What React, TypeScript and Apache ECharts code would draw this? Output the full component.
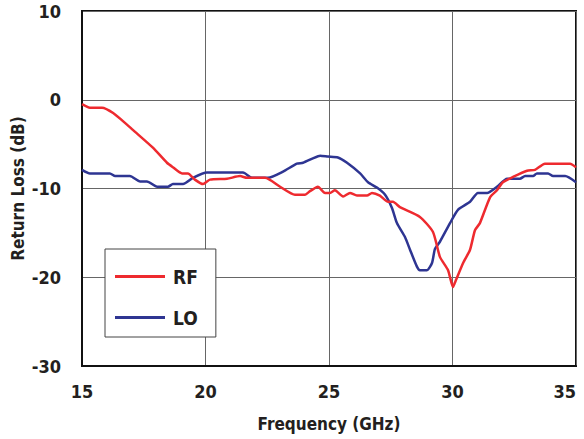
import React, { useEffect, useRef } from "react";
import * as echarts from "echarts";

const rfFreq = [15.0, 15.32, 15.81, 16.26, 16.82, 17.06, 17.87, 18.44, 18.68, 19.05, 19.29, 19.57, 19.9, 20.18, 20.87, 21.4, 21.68, 22.21, 22.41, 23.02, 23.62, 24.03, 24.23, 24.55, 24.84, 25.04, 25.24, 25.57, 25.85, 26.13, 26.54, 26.74, 27.06, 27.39, 27.59, 27.87, 28.68, 29.21, 29.49, 29.82, 30.02, 30.1, 30.43, 30.71, 30.91, 31.11, 31.52, 31.8, 32.04, 32.45, 33.02, 33.34, 33.74, 34.76, 35.0];
const rfLoss = [-0.5, -0.9, -0.9, -1.5, -2.8, -3.4, -5.4, -7.1, -7.6, -8.3, -8.3, -9.0, -9.5, -9.0, -8.9, -8.6, -8.8, -8.8, -8.8, -9.8, -10.7, -10.7, -10.3, -9.8, -10.5, -10.5, -10.2, -10.9, -10.5, -10.8, -10.8, -10.5, -10.8, -11.5, -11.5, -12.1, -13.2, -14.9, -17.7, -19.2, -21.1, -20.6, -18.4, -16.9, -14.7, -13.9, -11.0, -10.2, -9.3, -8.7, -8.0, -7.9, -7.2, -7.2, -7.6];

const loFreq = [15.0, 15.32, 16.13, 16.34, 16.94, 17.35, 17.63, 18.04, 18.48, 18.68, 19.09, 19.49, 20.06, 21.52, 21.88, 22.53, 23.14, 23.7, 23.95, 24.35, 24.64, 24.96, 25.36, 25.73, 26.26, 26.58, 26.94, 27.27, 27.55, 27.75, 28.08, 28.28, 28.56, 28.68, 28.97, 29.17, 29.29, 29.49, 29.9, 30.22, 30.71, 31.03, 31.4, 31.8, 32.21, 32.73, 32.94, 33.26, 33.42, 33.87, 34.07, 34.56, 35.0];
const loLoss = [-7.9, -8.3, -8.3, -8.6, -8.6, -9.2, -9.2, -9.8, -9.8, -9.5, -9.5, -8.8, -8.2, -8.2, -8.8, -8.8, -8.1, -7.2, -7.1, -6.6, -6.3, -6.4, -6.5, -7.1, -8.3, -9.3, -9.9, -10.7, -12.2, -13.9, -15.5, -16.9, -18.8, -19.2, -19.2, -18.4, -16.8, -16.0, -13.9, -12.4, -11.5, -10.5, -10.5, -9.8, -8.9, -8.9, -8.6, -8.6, -8.3, -8.3, -8.6, -8.6, -9.3];

const seriesNames = ["RF", "LO"];
const xTicks = { min: 15, max: 35, interval: 5 };
const yTicks = { min: -30, max: 10, interval: 10 };

const FONT = "'DejaVu Sans Condensed', 'Liberation Sans Narrow', sans-serif";
const TEXT = "#231f20";

export default function App() {
  const ref = useRef<HTMLDivElement>(null);
  useEffect(() => {
    if (!ref.current) return;
    const chart = echarts.init(ref.current, undefined, { renderer: "svg" });
    const zip = (xs: number[], ys: number[]) => xs.map((x, i) => [x, ys[i]]);
    chart.setOption({
      animation: false,
      backgroundColor: "#fff",
      grid: {
        left: 82,
        top: 11,
        right: 8,
        bottom: 73,
        outerBoundsMode: "none",
        containLabel: false,
        show: true,
        borderColor: "#111",
        borderWidth: 2,
        backgroundColor: "transparent",
      },
      legend: {
        data: seriesNames,
        orient: "vertical",
        left: 105,
        top: 249,
        padding: [18, 18, 10, 10],
        itemGap: 22,
        itemWidth: 50,
        itemHeight: 3,
        icon: "rect",
        borderColor: "#444",
        borderWidth: 1,
        backgroundColor: "#fff",
        textStyle: { fontFamily: FONT, fontWeight: "bold", fontSize: 19, color: TEXT, padding: [0, 0, 0, 3] },
      },
      xAxis: {
        type: "value",
        min: xTicks.min,
        max: xTicks.max,
        interval: xTicks.interval,
        name: "Frequency (GHz)",
        nameLocation: "middle",
        nameGap: 49,
        nameMoveOverlap: false,
        nameTextStyle: { fontFamily: FONT, fontWeight: "bold", fontSize: 17, color: TEXT },
        axisLine: { show: true, onZero: false, lineStyle: { color: "#111", width: 2 } },
        axisTick: { show: false },
        axisLabel: { fontFamily: FONT, fontWeight: "bold", fontSize: 18, color: TEXT, margin: 16, alignMaxLabel: "right" },
        splitLine: { show: true, lineStyle: { color: "#666", width: 1 } },
      },
      yAxis: {
        type: "value",
        min: yTicks.min,
        max: yTicks.max,
        interval: yTicks.interval,
        name: "Return Loss (dB)",
        nameLocation: "middle",
        nameGap: 56,
        nameMoveOverlap: false,
        nameRotate: 90,
        nameTextStyle: { fontFamily: FONT, fontWeight: "bold", fontSize: 17, color: TEXT },
        axisLine: { show: true, onZero: false, lineStyle: { color: "#111", width: 2 } },
        axisTick: { show: false },
        axisLabel: { fontFamily: FONT, fontWeight: "bold", fontSize: 18, color: TEXT, margin: 21, padding: [8, 0, 0, 0] },
        splitLine: { show: true, lineStyle: { color: "#666", width: 1 } },
      },
      series: [
        {
          name: seriesNames[0],
          type: "line",
          data: zip(rfFreq, rfLoss),
          symbol: "none",
          smooth: 0.2,
          lineStyle: { color: "#ee2a2f", width: 2.5 },
          itemStyle: { color: "#ee2a2f" },
          z: 3,
        },
        {
          name: seriesNames[1],
          type: "line",
          data: zip(loFreq, loLoss),
          symbol: "none",
          smooth: 0.2,
          lineStyle: { color: "#2e3592", width: 2.5 },
          itemStyle: { color: "#2e3592" },
          z: 2,
        },
      ],
    });
    return () => chart.dispose();
  }, []);
  return <div ref={ref} style={{ width: 584, height: 439, position: "absolute", left: 0, top: 0 }} />;
}
